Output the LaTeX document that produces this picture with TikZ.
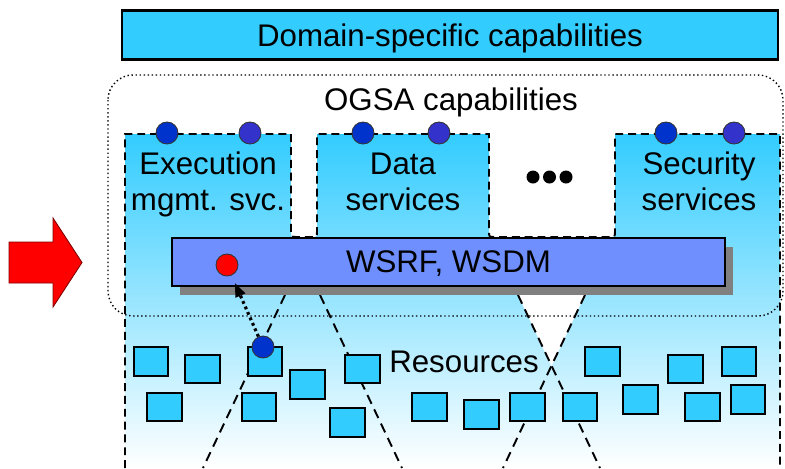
\documentclass[tikz,border=0pt]{standalone}
\usepackage{fontspec}
\setmainfont{Liberation Sans}
\usetikzlibrary{arrows.meta,shadows}
\definecolor{capcyan}{HTML}{33CCFF}
\definecolor{portdark}{HTML}{0033CC}
\definecolor{portmid}{HTML}{3333CC}
\definecolor{wsblue}{HTML}{6F8FFF}
\definecolor{shadowgray}{HTML}{808080}

\begin{document}
\begin{tikzpicture}[x=0.02cm, y=-0.02cm,
                    every node/.style={font=\fontsize{17.8}{20}\selectfont},
                    capbar/.style={draw=black, line width=1.4pt, fill=capcyan, inner sep=0pt,
                      text depth=0pt},
                    wsbar/.style={draw=black, line width=1.1pt, fill=wsblue, inner sep=0pt,
                      text depth=0pt,
                      drop shadow={shadow xshift=0.16cm, shadow yshift=-0.18cm,
                                   fill=shadowgray, opacity=1}},
                    resbox/.style={draw=black, line width=1.4pt, fill=capcyan,
                      minimum width=0.69cm, minimum height=0.57cm, inner sep=0pt},
                    port/.style={circle, draw=black!80, line width=0.5pt,
                      minimum size=0.44cm, inner sep=0pt},
                    outline/.style={line width=1.1pt, dash pattern=on 4.5pt off 2.8pt},
                    guide/.style={line width=1.1pt, dash pattern=on 5.5pt off 3.5pt},
                    probearrow/.style={line width=1.8pt, dash pattern=on 1.6pt off 1.8pt,
                      -{Triangle[length=0.28cm, width=0.2cm]}, shorten >=0.16cm}]

  \useasboundingbox (0,0) rectangle (785,468);

  %% ---- top bar ----
  \node[capbar, minimum width=13.12cm, minimum height=0.98cm]
    (domain) at (450,35) {Domain-specific capabilities};

  %% ---- shaded service columns, open at the bottom ----
  \shade[top color=capcyan, bottom color=white]
    (125,468) -- (125,134) -- (291,134) -- (291,231) .. controls (291,237) .. (297,237)
    -- (311,237) .. controls (317,237) .. (317,231) -- (317,134) -- (489,134)
    -- (489,231) .. controls (489,237) .. (495,237) -- (609,237)
    .. controls (615,237) .. (615,231) -- (615,134) -- (780,134) -- (780,468) -- cycle;
  \draw[outline]
    (125,468) -- (125,134) -- (291,134) -- (291,231) .. controls (291,237) .. (297,237)
    -- (311,237) .. controls (317,237) .. (317,231) -- (317,134) -- (489,134)
    -- (489,231) .. controls (489,237) .. (495,237) -- (609,237)
    .. controls (615,237) .. (615,231) -- (615,134) -- (780,134) -- (780,468);
  \fill[white] (518,295) -- (585,295) -- (551.5,366) -- cycle;

  %% dashed lines below the WSRF bar
  \draw[guide] (285,295) -- (203,468);
  \draw[guide] (320,295) -- (402,468);
  \draw[guide] (518,295) -- (600,468);
  \draw[guide] (585,295) -- (503,468);

  %% dotted frame of the OGSA part
  \draw[line width=0.8pt, dash pattern=on 0.8pt off 1.5pt, rounded corners=0.5cm]
    (108,75) rectangle (783,316);
  \node[anchor=base] (ogsa) at (451,110) {OGSA capabilities};

  %% ---- services (base = last line) ----
  \node[anchor=base, align=center] (exec) at (208,210) {Execution\\mgmt. svc.};
  \node[anchor=base, align=center] (data) at (403,210) {Data\\services};
  \node[anchor=base, align=center] (security) at (699,210) {Security\\services};
  \foreach \px/\pc [count=\i] in {167/portdark, 250/portmid, 363/portdark,
                                  439/portmid, 666/portdark, 734/portmid}
    \node[port, fill=\pc] (port\i) at (\px,133) {};
  \foreach \dx in {533,549.5,566}
    \fill (\dx,177) circle[radius=6.5];

  %% ---- resources ----
  \foreach \cx/\cy [count=\i] in {151/361.5, 202.5/369, 265/361.5, 307.5/384.5,
                                  362.5/369, 164.5/407, 259/407, 347.5/422.5,
                                  429.5/407, 481.5/414.5, 527.5/407, 580/407,
                                  602.5/361.5, 640.5/399.5, 685.5/369, 739/361.5,
                                  702.5/407, 748/399.5}
    \node[resbox] (res\i) at (\cx,\cy) {};
  \node[anchor=base] (resources) at (464,372) {Resources};

  %% ---- WSRF bar ----
  \node[wsbar, minimum width=11.06cm, minimum height=0.96cm]
    (wsrf) at (448.5,262) {WSRF, WSDM};
  \node[port, fill=red] (target) at (227,265) {};
  \node[port, fill=portdark] (probe) at (263,347) {};
  \draw[probearrow] (probe) -- (target);

  %% ---- red arrow on the left ----
  \draw[fill=red, draw=red!50!black, line width=0.5pt]
    (9,242) -- (53,242) -- (53,218) -- (82,262.5) -- (53,307) -- (53,283) -- (9,283) -- cycle;

\end{tikzpicture}
\end{document}
